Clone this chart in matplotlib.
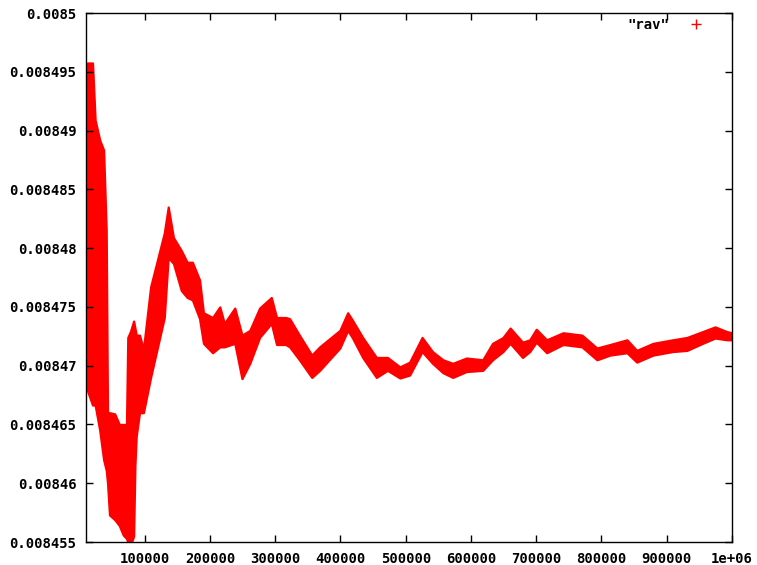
import matplotlib.pyplot as plt
import numpy as np

# x positions (iterations) and the upper / lower edge of the red point band
x_vals = [10000, 12000, 20000, 24000, 31000, 37000, 41000, 43000, 46000, 54000,
          61000, 67000, 72000, 74000, 78000, 83000, 85000, 87000, 92000, 98000,
          109000, 130000, 136000, 144000, 156000, 165000, 173000, 184000, 190000, 204000,
          215000, 222000, 238000, 249000, 261000, 276000, 294000, 302000, 316000, 322000,
          337000, 356000, 368000, 399000, 411000, 418000, 434000, 455000, 472000, 491000,
          506000, 525000, 541000, 557000, 572000, 593000, 618000, 633000, 649000, 660000,
          679000, 690000, 700000, 716000, 741000, 770000, 793000, 813000, 839000, 854000,
          879000, 909000, 931000, 955000, 974000, 992000, 1000000]
upper = [490.3, 495.75, 495.75, 490.9, 489.2, 488.35, 481.5, 466.0, 466.0, 465.9,
         465.0, 465.0, 465.0, 472.4, 472.9, 473.8, 473.2, 472.6, 472.6, 471.4,
         476.7, 481.3, 483.5, 480.9, 479.8, 478.8, 478.8, 477.3, 474.5, 474.1,
         475.0, 473.6, 474.9, 472.6, 473.0, 474.9, 475.8, 474.1, 474.1, 474.0,
         472.6, 470.9, 471.6, 473.0, 474.5, 473.9, 472.4, 470.7, 470.7, 469.9,
         470.3, 472.4, 471.2, 470.5, 470.2, 470.65, 470.5, 471.9, 472.4, 473.2,
         472.0, 472.2, 473.1, 472.2, 472.8, 472.6, 471.5, 471.8, 472.2, 471.3,
         471.9, 472.2, 472.4, 472.9, 473.3, 472.9, 472.8]
lower = [468.2, 467.9, 466.65, 466.65, 464.5, 462.0, 461.1, 460.0, 457.3, 456.9,
         456.4, 455.6, 455.3, 455.0, 454.7, 455.5, 461.5, 464.0, 466.0, 466.0,
         469.0, 474.1, 479.2, 478.7, 476.4, 475.8, 475.6, 474.0, 471.9, 471.1,
         471.6, 471.6, 471.9, 468.9, 470.2, 472.4, 473.6, 471.8, 471.8, 471.6,
         470.5, 469.0, 469.6, 471.5, 473.0, 472.4, 470.7, 469.0, 469.6, 468.95,
         469.2, 471.2, 470.2, 469.4, 469.0, 469.5, 469.6, 470.5, 471.2, 471.9,
         470.7, 471.2, 472.0, 471.1, 471.8, 471.6, 470.5, 470.9, 471.1, 470.3,
         470.9, 471.2, 471.3, 471.9, 472.35, 472.2, 472.2]

x_ticks = [100000, 200000, 300000, 400000, 500000, 600000, 700000, 800000, 900000, 1000000]
x_labels = ['100000', '200000', '300000', '400000', '500000', '600000', '700000',
            '800000', '900000', '1e+06']
y_ticks = [0.008455, 0.00846, 0.008465, 0.00847, 0.008475, 0.00848, 0.008485,
           0.00849, 0.008495, 0.0085]
y_labels = ['0.008455', '0.00846', '0.008465', '0.00847', '0.008475', '0.00848',
            '0.008485', '0.00849', '0.008495', '0.0085']

x = np.array(x_vals)
up = 0.008 + np.array(upper) * 1e-6
lo = 0.008 + np.array(lower) * 1e-6

fig = plt.figure(figsize=(7.57, 5.65), dpi=100)
ax = fig.add_axes([86 / 757, 1 - 542 / 565, (732 - 86) / 757, (542 - 13) / 565])

ax.fill_between(x, lo, up, color='#ff0000', linewidth=1.6, edgecolor='#ff0000')
ax.plot([], [], '+', color='#ff0000', markersize=7, label='"rav"')

ax.set_xlim(10000, 1000000)
ax.set_ylim(0.008455, 0.0085)
ax.set_xticks(x_ticks)
ax.set_xticklabels(x_labels)
ax.set_yticks(y_ticks)
ax.set_yticklabels(y_labels)

font = dict(family='DejaVu Sans Mono', weight='bold', size=10)
for lab in ax.get_xticklabels() + ax.get_yticklabels():
    lab.set_fontproperties(font)

ax.tick_params(direction='in', length=5, width=1, top=True, right=True, pad=7)
for s in ax.spines.values():
    s.set_linewidth(1)

leg = ax.legend(loc='upper right', frameon=False, markerfirst=False,
                prop=font, handlelength=1.5, handletextpad=1.2,
                bbox_to_anchor=(0.98, 1.015))

fig.savefig('out.png', dpi=100)
